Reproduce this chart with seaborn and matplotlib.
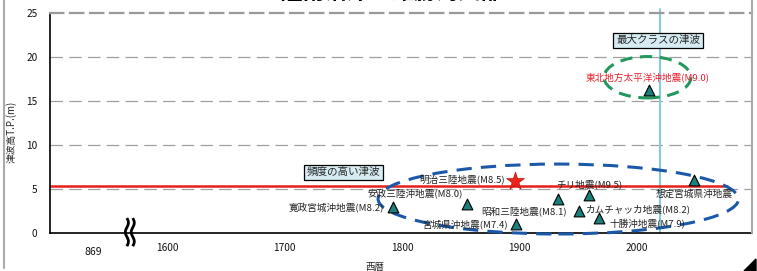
import numpy as np
import pandas as pd
import matplotlib
matplotlib.use("Agg")
import matplotlib.pyplot as plt
from matplotlib.patches import Ellipse, Polygon
from matplotlib.lines import Line2D
import matplotlib.transforms as mtransforms
import seaborn as sns

# 津波データ
events = ["寛政宮城沖地震(M8.2)", "安政三陸沖地震(M8.0)", "宮城県沖地震(M7.4)",
          "昭和三陸地震(M8.1)", "カムチャッカ地震(M8.2)", "チリ地震(M9.5)",
          "十勝沖地震(M7.9)", "東北地方太平洋沖地震(M9.0)", "想定宮城県沖地震"]
years = [1792, 1855, 1897, 1933, 1951, 1959, 1968, 2010, 2049]
heights = [3.0, 3.3, 1.0, 3.9, 2.5, 4.3, 1.7, 16.3, 6.0]

# 明治三陸地震（星印）
meiji_label = "明治三陸地震(M8.5)"
meiji_year = [1896]
meiji_height = [5.9]

# 基準線
levee_height = 5.35
now_year = 2020

xticks = [1600, 1700, 1800, 1900, 2000]
yticks = [0, 5, 10, 15, 20, 25]

df = pd.DataFrame({"event": events, "year": years, "height": heights})

sns.set_theme(style="white")
plt.rcParams["font.family"] = ["Noto Sans CJK JP", "DejaVu Sans"]

fig = plt.figure(figsize=(7.57, 2.71), dpi=100)
ax = fig.add_axes([50 / 757, 38 / 271, 702 / 757, 220 / 271])

ax.set_xlim(1500, 2098)
ax.set_ylim(0, 25)

# グリッド
for y in yticks[1:-1]:
    ax.axhline(y, color="#a0a0a0", lw=0.9, ls=(0, (10, 5)), zorder=0)

# 基準線
ax.plot([1500, 2077], [levee_height, levee_height], color="#e8201a", lw=1.8, zorder=2)
ax.plot([now_year, now_year], [0, 25.5], color="#86cbdc", lw=1.5, zorder=1, clip_on=False)

# 楕円
ax.add_patch(Ellipse((1933, 3.86), 307, 7.95, fill=False, ec="#1b59a8", lw=2.2,
                     ls=(0, (5, 3)), zorder=3, clip_on=False))
ax.add_patch(Ellipse((2009, 17.7), 74, 4.7, fill=False, ec="#23985e", lw=2.2,
                     ls=(0, (4, 2.5)), zorder=3))

sns.scatterplot(data=df, x="year", y="height", marker="^", s=60, color="#1b7f7c",
                edgecolor="black", linewidth=0.8, ax=ax, zorder=5, legend=False)
ax.scatter(meiji_year, meiji_height, marker="*", s=180, color="#ee2418",
           edgecolor="#c01010", linewidth=0.5, zorder=6)

# ラベル配置（ポイントからのオフセット）
offsets = {
    "寛政宮城沖地震(M8.2)": (-6, -1, "right"),
    "安政三陸沖地震(M8.0)": (-3, 7, "right"),
    "宮城県沖地震(M7.4)": (-6, 0, "right"),
    "昭和三陸地震(M8.1)": (-25, -9, "center"),
    "カムチャッカ地震(M8.2)": (5, 1, "left"),
    "チリ地震(M9.5)": (0, 8, "center"),
    "十勝沖地震(M7.9)": (7, -4.5, "left"),
    "東北地方太平洋沖地震(M9.0)": (-1, 9, "center"),
    "想定宮城県沖地震": (0, -10, "center"),
}
for ev, x, y in zip(events, years, heights):
    dx, dy, ha = offsets[ev]
    color = "#ee1c2c" if ev.startswith("東北") else "#222222"
    ax.annotate(ev, (x, y), xytext=(dx, dy), textcoords="offset points",
                ha=ha, va="center", fontsize=6.9, color=color, zorder=7)
ax.annotate(meiji_label, (meiji_year[0], meiji_height[0]), xytext=(-7, 1),
            textcoords="offset points", ha="right", va="center", fontsize=6.9,
            color="#222222", zorder=7)

box = dict(boxstyle="square,pad=0.25", fc="#d6ecf2", ec="black", lw=0.9)
ax.text(2018, 21.9, "最大クラスの津波", ha="center", va="center", fontsize=7.6,
        bbox=box, zorder=8)
ax.text(1750, 6.9, "頻度の高い津波", ha="center", va="center", fontsize=7.6,
        bbox=box, zorder=8)

# 軸
ax.set_xticks(xticks)
ax.set_xticklabels([str(t) for t in xticks])
ax.set_yticks(yticks)
ax.tick_params(direction="in", length=4, width=0.8, labelsize=7.3, colors="#111111")
ax.tick_params(axis="x", pad=7)
ax.tick_params(axis="y", pad=9)
ax.tick_params(axis="x", which="both", top=False)
ax.tick_params(axis="y", which="both", right=False)

for side in ["left", "bottom"]:
    ax.spines[side].set_color("black")
    ax.spines[side].set_linewidth(1.2)
ax.spines["right"].set_visible(False)
ax.spines["top"].set_color("#999999")
ax.spines["top"].set_linewidth(1.6)
ax.spines["top"].set_linestyle((0, (6, 3)))

ax.set_ylabel("津波高T.P.(m)", fontsize=7)
ax.yaxis.set_label_coords(-0.047, 0.46)
ax.set_xlabel("西暦", fontsize=6.8)
ax.xaxis.set_label_coords(0.463, -0.135)

# 869年と省略記号（波線2本）
trans = mtransforms.blended_transform_factory(ax.transData, ax.transAxes)
ax.text(1537, -0.085, "869", transform=trans, ha="center", va="center", fontsize=7.5,
        color="#111111")
wave_t = np.linspace(0, 1, 40)
wave_y = -0.06 + 0.128 * wave_t
for x0 in [1565.5, 1570.5]:
    ax.plot(x0 + 1.3 * np.sin(wave_t * 2 * np.pi * 1.5), wave_y, transform=trans,
            color="black", lw=2.0, clip_on=False, zorder=9, solid_capstyle="butt")

# タイトル（上部が切れている）
fig.text(0.502, 1 - 5 / 271, "三陸南沿岸　雄勝湾奥部", ha="center", va="bottom",
         fontsize=16, fontweight="bold", color="black")

# スライド枠
fig.add_artist(Line2D([4 / 757, 4 / 757], [3 / 271, 1], color="#aaaaaa", lw=1.5))
fig.add_artist(Line2D([752 / 757, 752 / 757], [38 / 271, 1], color="#aaaaaa", lw=1.5))
fig.add_artist(Polygon([[744 / 757, 0], [756 / 757, 12 / 271], [756 / 757, 0]],
                       closed=True, color="black"))

fig.savefig("out.png", dpi=100)
